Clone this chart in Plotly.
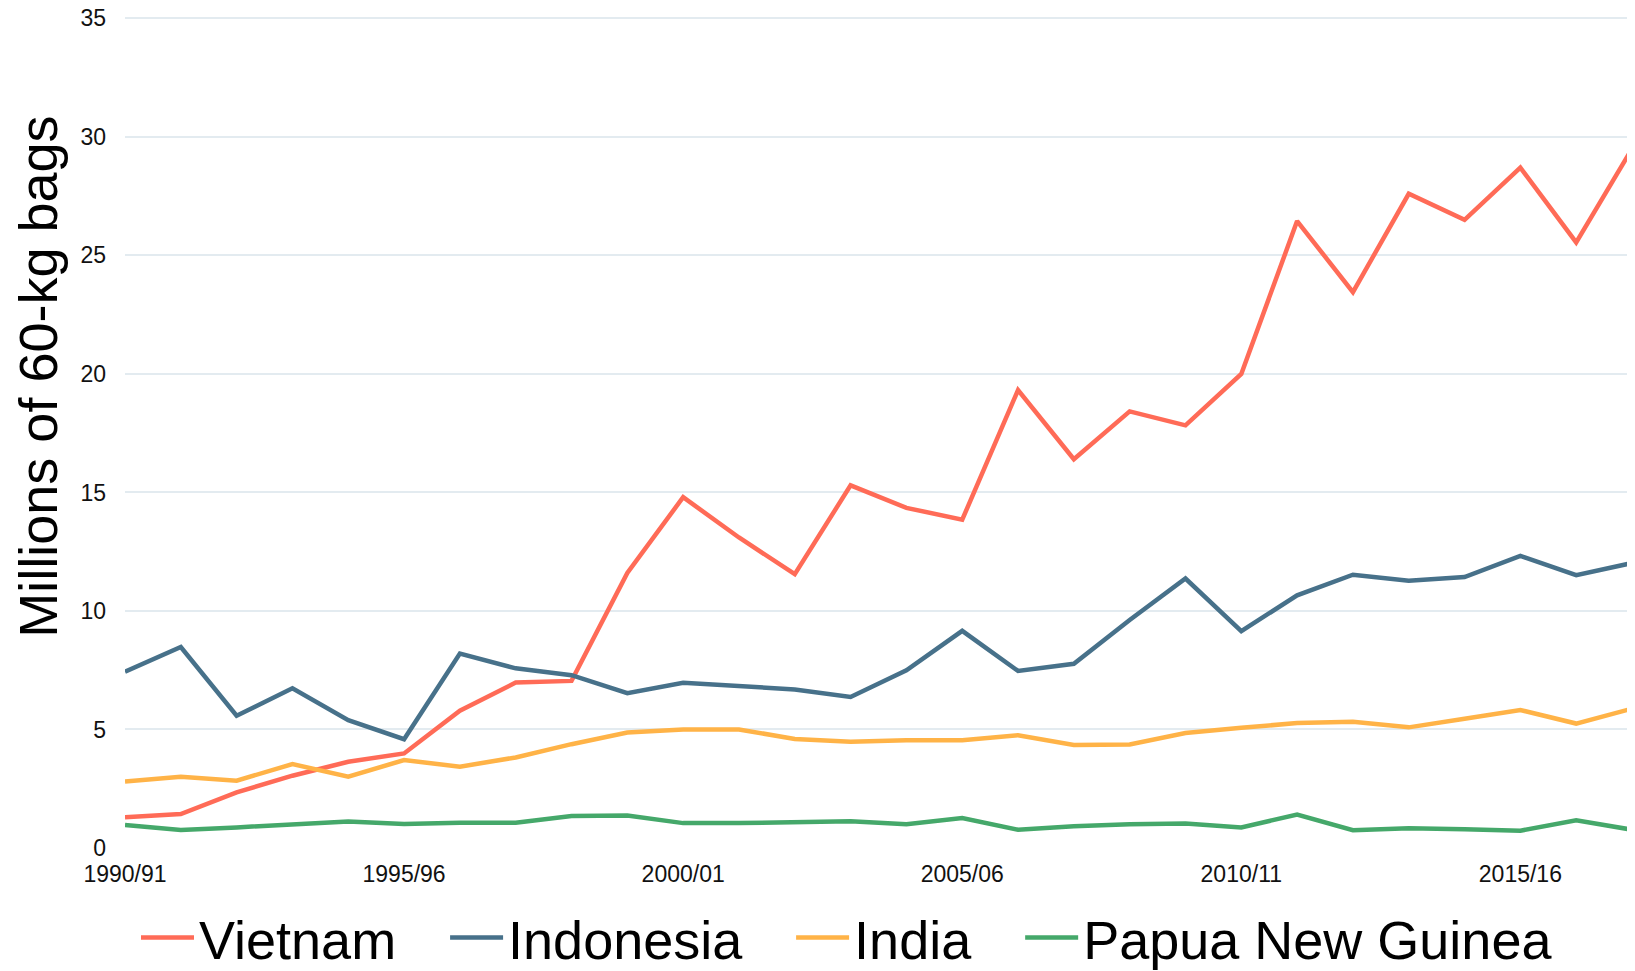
import plotly.graph_objects as go

seasons = [f"{y}/{str(y + 1)[-2:]}" for y in range(1990, 2018)]
tick_labels = ["1990/91", "1995/96", "2000/01", "2005/06", "2010/11", "2015/16"]

vietnam = [1.30, 1.43, 2.35, 3.05, 3.64, 3.99, 5.79, 6.98, 7.05, 11.60, 14.80, 13.10,
           11.55, 15.30, 14.35, 13.85, 19.32, 16.40, 18.42, 17.83, 20.00, 26.45, 23.45,
           27.60, 26.50, 28.70, 25.55, 29.50]
indonesia = [7.44, 8.48, 5.58, 6.74, 5.39, 4.59, 8.20, 7.58, 7.29, 6.53, 6.97, 6.81,
             6.69, 6.37, 7.50, 9.16, 7.47, 7.77, 9.62, 11.37, 9.15, 10.66, 11.53, 11.27,
             11.43, 12.32, 11.51, 12.02]
india = [2.81, 3.01, 2.84, 3.54, 3.01, 3.71, 3.43, 3.82, 4.38, 4.87, 5.00, 5.00, 4.60,
         4.48, 4.55, 4.55, 4.76, 4.35, 4.37, 4.85, 5.07, 5.27, 5.33, 5.09, 5.45, 5.82,
         5.25, 5.88]
png = [0.97, 0.76, 0.87, 1.01, 1.12, 1.01, 1.07, 1.07, 1.35, 1.37, 1.05, 1.05, 1.08,
       1.13, 1.00, 1.26, 0.77, 0.92, 1.00, 1.03, 0.87, 1.41, 0.75, 0.83, 0.79, 0.73,
       1.17, 0.77]

series = [
    ("Vietnam", vietnam, "#FF6B57", "legend"),
    ("Indonesia", indonesia, "#47718A", "legend2"),
    ("India", india, "#FFB347", "legend3"),
    ("Papua New Guinea", png, "#45A86A", "legend4"),
]

FONT = "Liberation Sans, Arial, sans-serif"

fig = go.Figure()
for name, vals, color, lg in series:
    fig.add_trace(go.Scatter(
        x=seasons, y=vals, name=name, mode="lines",
        line=dict(color=color, width=4.5), legend=lg,
    ))

leg_common = dict(orientation="h", yanchor="middle", y=-0.108, xanchor="left",
                  font=dict(family=FONT, size=54, color="#000000"),
                  bgcolor="rgba(0,0,0,0)", itemwidth=53, borderwidth=0)
legx = [0.0073, 0.2124, 0.4420, 0.5940]

layout_legends = {}
for i, key in enumerate(["legend", "legend2", "legend3", "legend4"]):
    layout_legends[key] = dict(leg_common, x=legx[i])

# the page body has an 8px margin; size the figure so it fits the window
fig.update_layout(
    width=1627, height=963,
    margin=dict(l=117, r=3, t=7.6, b=123, autoexpand=False),
    paper_bgcolor="white", plot_bgcolor="white",
    font=dict(family=FONT, color="#1a1a1a"),
    showlegend=True,
    **layout_legends,
    xaxis=dict(
        type="category", range=[0, 27], tickmode="array",
        tickvals=tick_labels, ticktext=tick_labels,
        showgrid=False, zeroline=False, showline=False,
        ticks="", tickfont=dict(size=23, family=FONT, color="#111111"),
        ticklabelstandoff=10, ticklabeloverflow="allow",
    ),
    yaxis=dict(
        range=[0, 35.1], dtick=5, tick0=0,
        showgrid=True, gridcolor="#E3EBF0", gridwidth=2,
        zeroline=False, showline=False, ticks="",
        tickfont=dict(size=23, family=FONT, color="#111111"),
        ticklabelstandoff=18, ticklabeloverflow="allow",
    ),
    annotations=[dict(
        text="Millions of 60-kg bags", textangle=-90,
        xref="paper", yref="paper", x=-0.058, y=0.566,
        xanchor="center", yanchor="middle", showarrow=False,
        font=dict(family=FONT, size=54, color="#000000"),
    )],
)

fig.write_html("out.html")
